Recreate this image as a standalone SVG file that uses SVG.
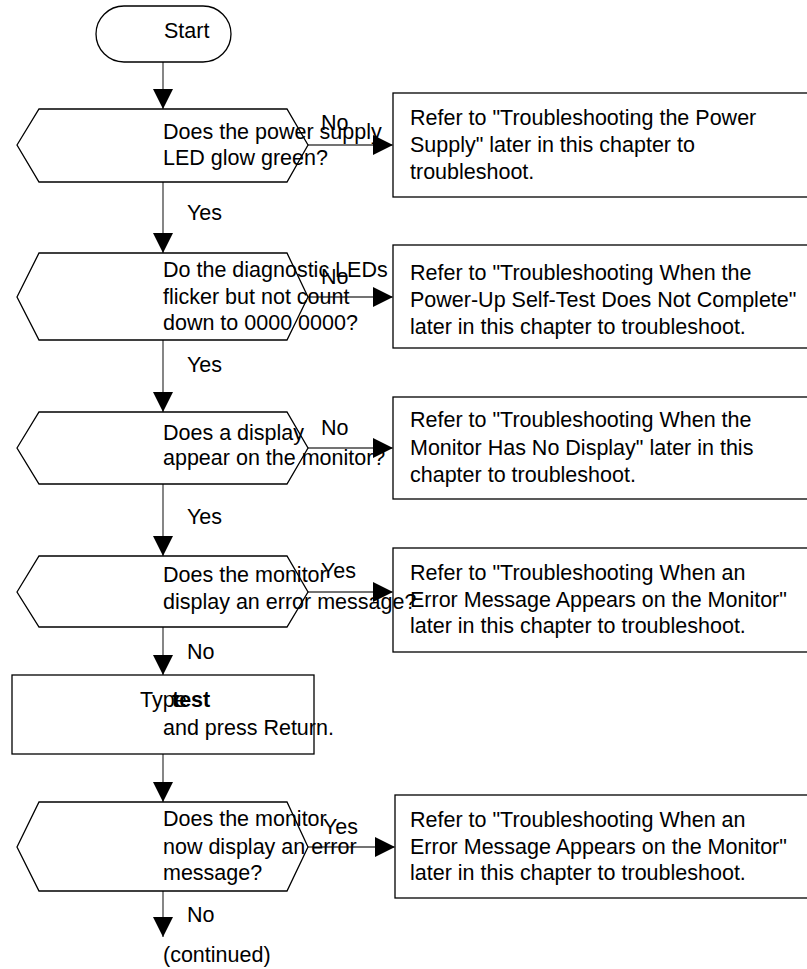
<svg xmlns="http://www.w3.org/2000/svg" width="807" height="969" viewBox="0 0 807 969">
<style>
.s{fill:#fff;stroke:#000;stroke-width:1.3}
.c{stroke:#444;stroke-width:1.3;fill:none}
text{font-family:"Liberation Sans",Arial,sans-serif;font-size:21.5px;fill:#000}
.b{font-weight:bold}
</style>
<defs>
<marker id="ah" markerWidth="20" markerHeight="20" refX="20" refY="10" orient="auto" markerUnits="userSpaceOnUse" viewBox="0 0 20 20">
<path d="M0,0 L20,10 L0,20 Z" fill="#000"/>
</marker>
</defs>
<g id="r1">
<rect class="s" x="393" y="93" width="420" height="104"/>
<text x="410" y="125">Refer to "Troubleshooting the Power</text>
<text x="410" y="152">Supply" later in this chapter to</text>
<text x="410" y="179">troubleshoot.</text>
</g>
<g id="r2">
<rect class="s" x="393" y="245" width="420" height="103"/>
<text x="410" y="280">Refer to "Troubleshooting When the</text>
<text x="410" y="307">Power-Up Self-Test Does Not Complete"</text>
<text x="410" y="334">later in this chapter to troubleshoot.</text>
</g>
<g id="r3">
<rect class="s" x="393" y="397" width="420" height="102"/>
<text x="410" y="427">Refer to "Troubleshooting When the</text>
<text x="410" y="455">Monitor Has No Display" later in this</text>
<text x="410" y="482">chapter to troubleshoot.</text>
</g>
<g id="r4">
<rect class="s" x="393" y="548" width="420" height="104"/>
<text x="410" y="580">Refer to "Troubleshooting When an</text>
<text x="410" y="607">Error Message Appears on the Monitor"</text>
<text x="410" y="633">later in this chapter to troubleshoot.</text>
</g>
<g id="r5">
<rect class="s" x="395" y="795" width="420" height="103"/>
<text x="410" y="827">Refer to "Troubleshooting When an</text>
<text x="410" y="854">Error Message Appears on the Monitor"</text>
<text x="410" y="880">later in this chapter to troubleshoot.</text>
</g>
<g id="connectors">
<line class="c" x1="163" y1="62" x2="163" y2="109" marker-end="url(#ah)"/>
<line class="c" x1="163" y1="182" x2="163" y2="253" marker-end="url(#ah)"/>
<line class="c" x1="163" y1="340" x2="163" y2="412" marker-end="url(#ah)"/>
<line class="c" x1="163" y1="484" x2="163" y2="556" marker-end="url(#ah)"/>
<line class="c" x1="163" y1="627" x2="163" y2="675" marker-end="url(#ah)"/>
<line class="c" x1="163" y1="754" x2="163" y2="802" marker-end="url(#ah)"/>
<line class="c" x1="163" y1="891" x2="163" y2="937" marker-end="url(#ah)"/>
<line class="c" x1="308" y1="145" x2="393" y2="145" marker-end="url(#ah)"/>
<line class="c" x1="308" y1="297" x2="393" y2="297" marker-end="url(#ah)"/>
<line class="c" x1="308" y1="448" x2="393" y2="448" marker-end="url(#ah)"/>
<line class="c" x1="308" y1="592" x2="393" y2="592" marker-end="url(#ah)"/>
<line class="c" x1="308" y1="847" x2="395" y2="847" marker-end="url(#ah)"/>
<text x="187" y="220">Yes</text>
<text x="187" y="372">Yes</text>
<text x="187" y="524">Yes</text>
<text x="187" y="659">No</text>
<text x="187" y="922">No</text>
<text x="321" y="130">No</text>
<text x="321" y="284">No</text>
<text x="321" y="435">No</text>
<text x="321" y="578">Yes</text>
<text x="323" y="834">Yes</text>
</g>
<g id="start">
<rect class="s" x="96" y="6" width="135" height="56" rx="28" ry="28"/>
<text x="164" y="38">Start</text>
</g>
<g id="q1">
<path class="s" d="M17,145 L39,109 L287,109 L308,145 L287,182 L39,182 Z"/>
<text x="163" y="139">Does the power supply</text>
<text x="163" y="165">LED glow green?</text>
</g>
<g id="q2">
<path class="s" d="M17,297 L39,253 L287,253 L308,297 L287,340 L39,340 Z"/>
<text x="163" y="277">Do the diagnostic LEDs</text>
<text x="163" y="304">flicker but not count</text>
<text x="163" y="330">down to 0000 0000?</text>
</g>
<g id="q3">
<path class="s" d="M17,448 L39,412 L287,412 L308,448 L287,484 L39,484 Z"/>
<text x="163" y="440">Does a display</text>
<text x="163" y="465">appear on the monitor?</text>
</g>
<g id="q4">
<path class="s" d="M17,592 L39,556 L287,556 L308,592 L287,627 L39,627 Z"/>
<text x="163" y="582">Does the monitor</text>
<text x="163" y="609">display an error message?</text>
</g>
<g id="p1">
<rect class="s" x="12" y="675" width="302" height="79"/>
<text x="140" y="707">Type</text>
<text class="b" x="172" y="707">test</text>
<text x="163" y="735">and press Return.</text>
</g>
<g id="q5">
<path class="s" d="M17,847 L39,802 L287,802 L308,847 L287,891 L39,891 Z"/>
<text x="163" y="826">Does the monitor</text>
<text x="163" y="854">now display an error</text>
<text x="163" y="880">message?</text>
</g>
<text x="163" y="962">(continued)</text>
</svg>
